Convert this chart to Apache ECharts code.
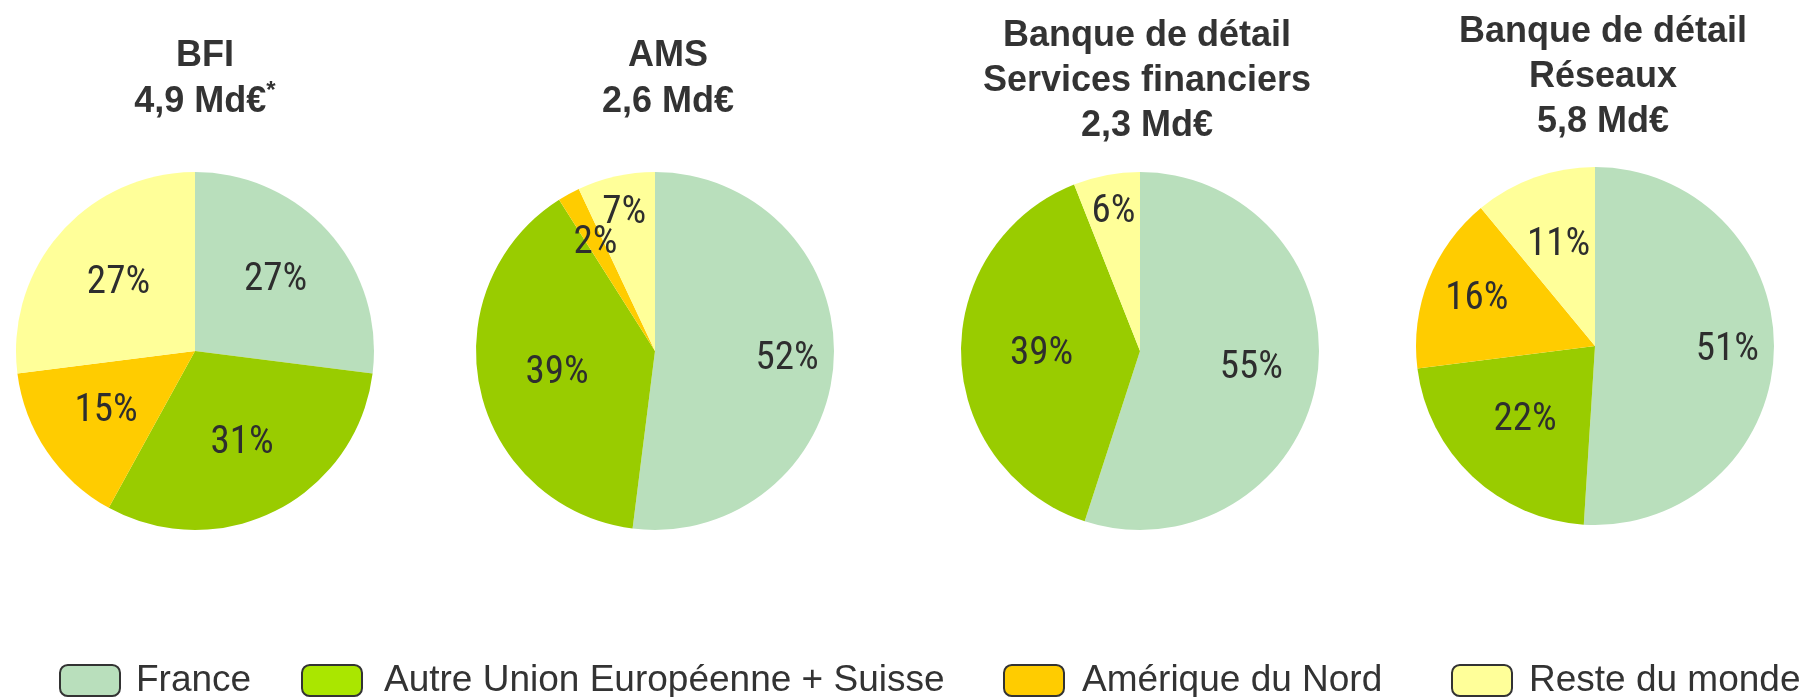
<!DOCTYPE html>
<html>
<head>
<meta charset="utf-8">
<script src="https://cdn.jsdelivr.net/npm/echarts@6/dist/echarts.min.js"></script>
<style>
html,body{margin:0;padding:0;background:#fff;}
#chart{width:1801px;height:697px;}
</style>
</head>
<body>
<div id="chart"></div>
<script>
// ---- data ----
const categories = ['France', 'Autre Union Européenne + Suisse', 'Amérique du Nord', 'Reste du monde'];
const pieTitles = ['BFI\n4,9 Md€{s|*}', 'AMS\n2,6 Md€', 'Banque de détail\nServices financiers\n2,3 Md€', 'Banque de détail\nRéseaux\n5,8 Md€'];
const bfiValues = [27, 31, 15, 27];
const amsValues = [52, 39, 2, 7];
const sfValues = [55, 39, 0, 6];
const reseauxValues = [51, 22, 16, 11];

// ---- style / layout ----
const pieColors = ['#B9DFBC', '#99CC00', '#FFCC00', '#FFFF99'];
const legendColors = ['#B9DFBC', '#AAE600', '#FFCC00', '#FFFF99'];
const legendLefts = [59, 301, 1003, 1451];
const legendTextGap = [11, 17, 13, 12];
const centers = [[195, 351], [655, 351], [1140, 351], [1595, 346]];
const R = 179;
const titleX = [205, 668, 1147, 1603];
const titleTop = [33.5, 33.5, 14, 9.5];
const titleLH = [45.5, 45.5, 45, 45];
// label distance from centre as a fraction of the radius (per slice)
const labelRatio = [
  [0.60, 0.58, 0.60, 0.57],
  [0.74, 0.56, 0.69, 0.79],
  [0.63, 0.55, 0.60, 0.79],
  [0.74, 0.57, 0.71, 0.60]
];
const allValues = [bfiValues, amsValues, sfValues, reseauxValues];
const labelFont = '"Roboto Condensed", "Liberation Sans Narrow", "Arial Narrow", "DejaVu Sans Condensed", sans-serif';
const textFont = '"Liberation Sans", Arial, sans-serif';

const chart = echarts.init(document.getElementById('chart'), null, {renderer: 'canvas'});

const series = [];
const polar = [], angleAxis = [], radiusAxis = [];
allValues.forEach((vals, p) => {
  const total = vals.reduce((a, b) => a + b, 0);
  // the pie itself
  series.push({
    type: 'pie',
    center: centers[p],
    radius: R,
    startAngle: 90,
    clockwise: true,
    silent: true,
    animation: false,
    label: {show: false},
    labelLine: {show: false},
    data: vals.map((v, i) => ({name: categories[i], value: v, itemStyle: {color: pieColors[i]}}))
  });
  // polar system overlaying the pie, used to place the percentage labels
  polar.push({center: centers[p], radius: R});
  angleAxis.push({polarIndex: p, type: 'value', min: 0, max: total, startAngle: 90, clockwise: true, show: false});
  radiusAxis.push({polarIndex: p, type: 'value', min: 0, max: 1, show: false});
  let cum = 0;
  const pts = [];
  vals.forEach((v, i) => {
    if (v > 0) pts.push({name: categories[i], value: [labelRatio[p][i], cum + v / 2, v]});
    cum += v;
  });
  series.push({
    type: 'scatter',
    coordinateSystem: 'polar',
    polarIndex: p,
    symbolSize: 1,
    itemStyle: {color: 'rgba(0,0,0,0)', opacity: 1},
    silent: true,
    animation: false,
    z: 5,
    label: {
      show: true,
      position: 'inside',
      formatter: (d) => d.value[2] + '%',
      color: '#2e2e2e',
      opacity: 1,
      fontFamily: labelFont,
      fontSize: 39
    },
    data: pts
  });
});

const legends = categories.map((c, i) => ({
  left: legendLefts[i],
  top: 662,
  padding: 0,
  orient: 'horizontal',
  itemWidth: 60,
  itemHeight: 31,
  icon: 'roundRect',
  selectedMode: false,
  textStyle: {
    fontFamily: textFont,
    fontSize: 37,
    color: '#333333',
    lineHeight: 31,
    padding: [0, 0, 0, legendTextGap[i]]
  },
  data: [{
    name: c,
    itemStyle: {color: legendColors[i], borderColor: '#333333', borderWidth: 2}
  }]
}));

const graphics = pieTitles.map((t, i) => ({
  type: 'text',
  x: titleX[i],
  y: titleTop[i],
  silent: true,
  style: {
    text: t,
    align: 'center',
    verticalAlign: 'top',
    fontFamily: textFont,
    fontWeight: 'bold',
    fontSize: 36,
    lineHeight: titleLH[i],
    fill: '#333333',
    rich: {
      s: {fontSize: 24, fontWeight: 'bold', fontFamily: textFont, fill: '#333333', verticalAlign: 'top', lineHeight: 45.5}
    }
  }
}));

chart.setOption({
  backgroundColor: '#ffffff',
  animation: false,
  polar: polar,
  angleAxis: angleAxis,
  radiusAxis: radiusAxis,
  legend: legends,
  graphic: graphics,
  series: series
});
</script>
</body>
</html>
